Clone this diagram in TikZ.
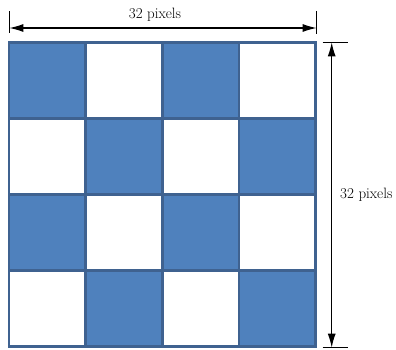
\documentclass[tikz,border=0pt]{standalone}
\usepackage{xcolor}
\usetikzlibrary{arrows.meta,positioning}
\definecolor{cellblue}{HTML}{4F81BD}
\definecolor{gridline}{HTML}{3F6290}
\tikzset{
  bcell/.style={rectangle, draw=gridline, line width=2.6pt, fill=cellblue,
                minimum width=76.6pt, minimum height=76.05pt, outer sep=0pt, inner sep=0pt},
  wcell/.style={bcell, fill=white},
  dim/.style={{Latex[length=14pt,width=8pt]}-{Latex[length=14pt,width=8pt]}, line width=1.3pt},
  tick/.style={line width=1.3pt},
  lbl/.style={font=\fontsize{15}{18}\selectfont, inner sep=0pt}
}

\begin{document}
\begin{tikzpicture}[x=1pt, y=1pt, node distance=0pt]
  \useasboundingbox (0,0) rectangle (396,349);
  % row 1
  \node[bcell] (c11) at (47.3,268.7) {};
  \node[wcell, right=of c11] (c12) {};
  \node[bcell, right=of c12] (c13) {};
  \node[wcell, right=of c13] (c14) {};
  % row 2
  \node[wcell, below=of c11] (c21) {};
  \node[bcell, right=of c21] (c22) {};
  \node[wcell, right=of c22] (c23) {};
  \node[bcell, right=of c23] (c24) {};
  % row 3
  \node[bcell, below=of c21] (c31) {};
  \node[wcell, right=of c31] (c32) {};
  \node[bcell, right=of c32] (c33) {};
  \node[wcell, right=of c33] (c34) {};
  % row 4
  \node[wcell, below=of c31] (c41) {};
  \node[bcell, right=of c41] (c42) {};
  \node[wcell, right=of c42] (c43) {};
  \node[bcell, right=of c43] (c44) {};

  % width
  \coordinate (wl) at (9.3,321);
  \coordinate (wr) at (316.7,321);
  \coordinate (wlt) at (9.3,337.5);  \coordinate (wlb) at (9.3,316);
  \coordinate (wrt) at (316.7,338);  \coordinate (wrb) at (316.7,315);
  \draw[tick] (wlt) -- (wlb);
  \draw[tick] (wrt) -- (wrb);
  \draw[dim] (wl) -- (wr);
  \node[lbl, anchor=base] (wlabel) at (155,330.5) {32 pixels};

  % height
  \coordinate (ht) at (331.7,306.7);
  \coordinate (hb) at (331.7,1.3);
  \coordinate (htl) at (322.7,306.7); \coordinate (htr) at (347.7,306.7);
  \coordinate (hbl) at (322.7,1.3);   \coordinate (hbr) at (347.7,1.3);
  \draw[tick] (htl) -- (htr);
  \draw[tick] (hbl) -- (hbr);
  \draw[dim] (ht) -- (hb);
  \node[lbl, anchor=base west] (hlabel) at (340,151) {32 pixels};
\end{tikzpicture}
\end{document}
